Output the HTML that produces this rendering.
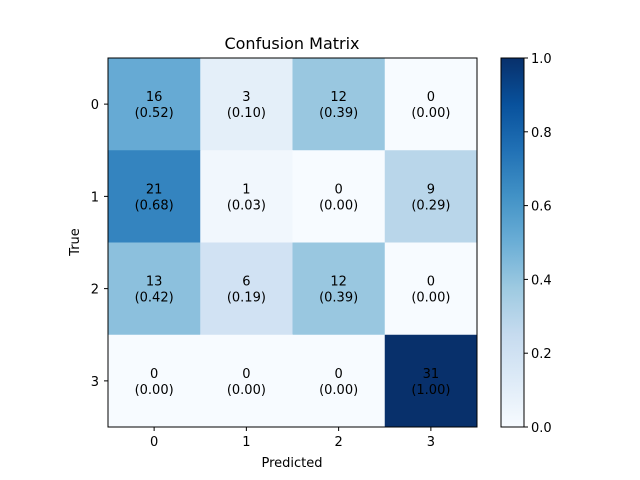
<!DOCTYPE html>
<html><head><meta charset="utf-8"><style>body{margin:0;background:#fff}svg{display:block;font-family:"DejaVu Sans","Liberation Sans",sans-serif}</style></head>
<body>
<svg id="chart" width="640" height="480">
<defs><linearGradient id="blues" x1="0" y1="1" x2="0" y2="0">
<stop offset="0" stop-color="#f7fbff"/><stop offset="0.125" stop-color="#deebf7"/><stop offset="0.25" stop-color="#c6dbef"/><stop offset="0.375" stop-color="#9ecae1"/><stop offset="0.5" stop-color="#6baed6"/><stop offset="0.625" stop-color="#4292c6"/><stop offset="0.75" stop-color="#2171b5"/><stop offset="0.875" stop-color="#08519c"/><stop offset="1" stop-color="#08306b"/></linearGradient></defs>
<text x="292" y="49" font-size="16" text-anchor="middle">Confusion Matrix</text>
<g id="cells"></g>
<rect x="108" y="58" width="369" height="369" fill="none" stroke="#000" stroke-width="1"/>
<g id="axes"></g>
<text x="292" y="467" font-size="13" text-anchor="middle">Predicted</text>
<text transform="translate(79,242) rotate(-90)" font-size="13" text-anchor="middle">True</text>
<rect x="501" y="58" width="23" height="369" fill="url(#blues)" stroke="#000" stroke-width="1"/>
<g id="cbar"></g>
</svg>
<script>
const categories = ["0","1","2","3"];
const counts = [[16,3,12,0],[21,1,0,9],[13,6,12,0],[0,0,0,31]];
const cbarTicks = [0.0,0.2,0.4,0.6,0.8,1.0];
const stops=[[247,251,255],[222,235,247],[198,219,239],[158,202,225],[107,174,214],[66,146,198],[33,113,181],[8,81,156],[8,48,107]];
function cmap(v){v=Math.max(0,Math.min(1,v));const p=v*8,i=Math.min(7,Math.floor(p)),f=p-i;const c=stops[i].map((a,k)=>Math.round(a+(stops[i+1][k]-a)*f));return `rgb(${c})`;}
const X0=108,Y0=58,W=369,H=369,n=categories.length,cw=W/n,ch=H/n;
const xs=j=>X0+j*cw, ys=i=>Y0+i*ch;
const NS="http://www.w3.org/2000/svg";
function mk(t,a,p){const e=document.createElementNS(NS,t);for(const k in a)e.setAttribute(k,a[k]);p.appendChild(e);return e;}
const cells=document.getElementById('cells'),axes=document.getElementById('axes'),cb=document.getElementById('cbar');
counts.forEach((row,i)=>{const s=row.reduce((a,b)=>a+b,0);row.forEach((c,j)=>{const v=s?c/s:0;
const r=mk('rect',{x:xs(j),y:ys(i),width:cw+0.5,height:ch+0.5,fill:cmap(v)},cells);


const t=mk('text',{x:xs(j)+cw/2,y:ys(i)+ch/2-3,'font-size':13,'text-anchor':'middle',fill:'#000'},cells);


mk('tspan',{x:xs(j)+cw/2},t).textContent=c;
mk('tspan',{x:xs(j)+cw/2,dy:16},t).textContent='('+v.toFixed(2)+')';});});
categories.forEach((c,k)=>{const cx=xs(k)+cw/2,cy=ys(k)+ch/2;
mk('line',{x1:cx,y1:427,x2:cx,y2:431,stroke:'#000'},axes);
const tx=mk('text',{x:cx,y:446,'font-size':13,'text-anchor':'middle'},axes);tx.textContent=c;


mk('line',{x1:104,y1:cy,x2:108,y2:cy,stroke:'#000'},axes);
const ty=mk('text',{x:99,y:cy+5,'font-size':13,'text-anchor':'end'},axes);ty.textContent=c;

});
cbarTicks.forEach(v=>{const y=427-v*369;
mk('line',{x1:524,y1:y,x2:528,y2:y,stroke:'#000'},cb);
const t=mk('text',{x:531,y:y+5,'font-size':13},cb);t.textContent=v.toFixed(1);

});
</script>
</body></html>
